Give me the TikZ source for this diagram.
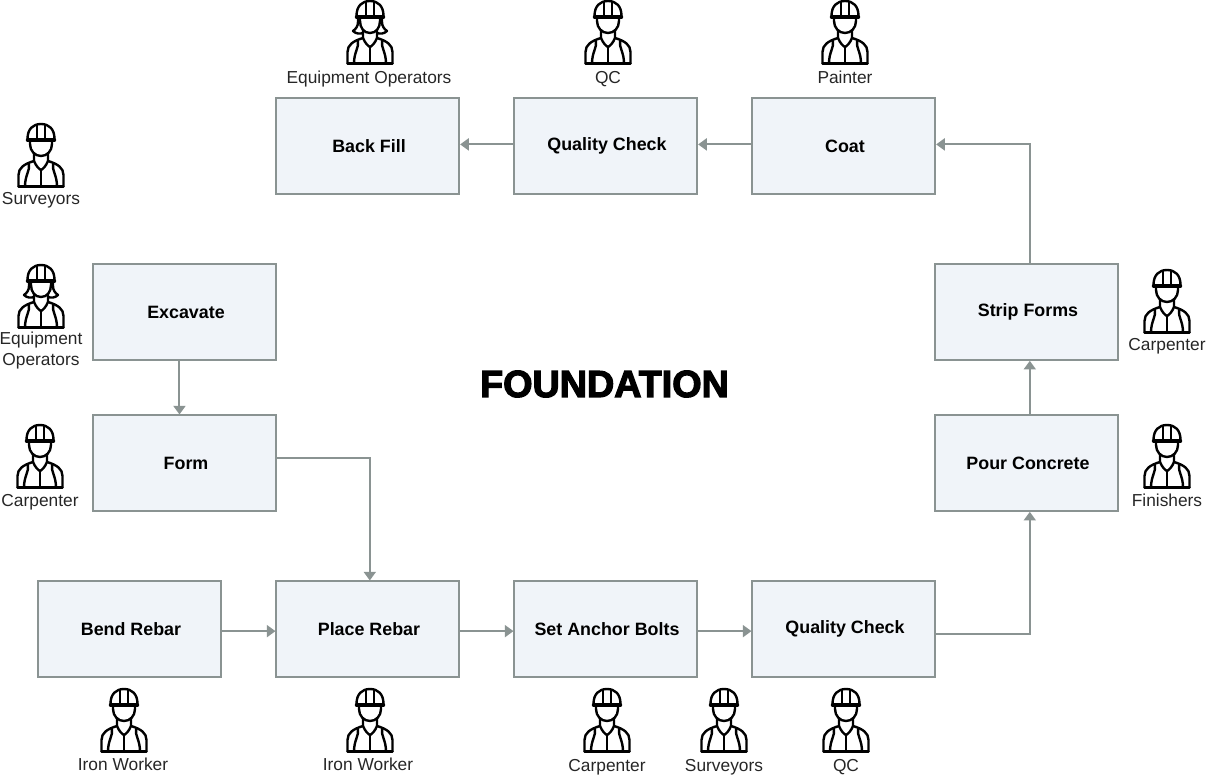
\documentclass[tikz,border=0pt]{standalone}
\usepackage{fontspec}
\setmainfont{Liberation Sans}
\newfontfamily\titlefont[FakeBold=3.2]{Liberation Sans Bold}
\usetikzlibrary{arrows.meta}
\definecolor{linegray}{HTML}{8A9392}
\definecolor{boxfill}{HTML}{F0F4F9}
\tikzset{
  x=0.75pt,y=-0.75pt,
  taskbox/.style={draw=linegray,fill=boxfill,line width=1.5pt,minimum width=137pt,minimum height=71.5pt,inner sep=0pt,font=\fontsize{13.4}{16}\selectfont\bfseries,anchor=north west,xshift=-0.4pt,yshift=0.4pt,execute at begin node=\hspace*{1.8pt}},
  flow/.style={draw=linegray,line width=1.5pt,-{Triangle[length=6.5pt,width=9pt]}},
  role/.style={font=\fontsize{13}{15.4}\selectfont,inner sep=0pt,align=center,text=black!85,yshift=-1.3pt},
  icon/.style={line width=1.8pt,line join=round,line cap=round,black},
  pics/helmet/.style={code={
    \draw[icon] (-13.5,16) .. controls (-13.5,6) and (-8,1) .. (0,1) .. controls (8,1) and (13.5,6) .. (13.5,16);
    \draw[icon,line width=2.6pt] (-13.5,17) -- (13.5,17);
    \draw[icon] (-4,2) -- (-4,15) (4,2) -- (4,15);
  }},
  pics/torso/.style={code={
    \draw[icon] (-22.5,63.5) -- (22.5,63.5);
    \draw[icon] (-22.5,63.5) -- (-22.5,52) .. controls (-22.5,45) and (-17,41) .. (-7,38) -- (-7,31);
    \draw[icon] (22.5,63.5) -- (22.5,52) .. controls (22.5,45) and (17,41) .. (7,38) -- (7,31);
    \draw[icon] (-7,38) .. controls (-5,43) and (-2,46) .. (0,47) .. controls (2,46) and (5,43) .. (7,38);
    \draw[icon] (0,47) -- (0,63.5);
    \draw[icon] (-12,41) .. controls (-11,48) and (-16,52) .. (-16,63.5);
    \draw[icon] (12,41) .. controls (11,48) and (16,52) .. (16,63.5);
  }},
  pics/worker/.style={code={
    \pic {helmet}; \pic {torso};
    \draw[icon] (-11,18) -- (-11,21) .. controls (-11,28) and (-6,33) .. (0,33) .. controls (6,33) and (11,28) .. (11,21) -- (11,18);
  }},
  pics/workerf/.style={code={
    \pic {helmet}; \pic {torso};
    \draw[icon] (-10,18) -- (-10,21) .. controls (-10,28) and (-6,33) .. (0,33) .. controls (6,33) and (10,28) .. (10,21) -- (10,18);
    \draw[icon] (-12,19) -- (-12,22) .. controls (-12,26) and (-14,29) .. (-17,31) .. controls (-14,34) and (-10,34) .. (-7,33);
    \draw[icon] (12,19) -- (12,22) .. controls (12,26) and (14,29) .. (17,31) .. controls (14,34) and (10,34) .. (7,33);
  }}
}
\begin{document}
\begin{tikzpicture}
\useasboundingbox (0,0) rectangle (1206,775);
% task boxes
\node[taskbox] (backfill) at (276,98) {Back Fill};
\node[taskbox] (qc1) at (514,98) {Quality Check};
\node[taskbox] (coat) at (752,98) {Coat};
\node[taskbox] (excavate) at (93,264) {Excavate};
\node[taskbox] (form) at (93,415) {Form};
\node[taskbox] (bend) at (38,581) {Bend Rebar};
\node[taskbox] (place) at (276,581) {Place Rebar};
\node[taskbox] (anchor) at (514,581) {Set Anchor Bolts};
\node[taskbox] (qc2) at (752,581) {Quality Check};
\node[taskbox] (strip) at (935,264) {Strip Forms};
\node[taskbox] (pour) at (935,415) {Pour Concrete};
% title
\node[inner sep=0pt,font=\titlefont\fontsize{28.3}{30}\selectfont] (title) at (604.5,384) {FOUNDATION};
% connectors
\draw[flow] ([xshift=-4pt]excavate.south) -- ([xshift=-4pt]form.north);
\coordinate (formout) at ([yshift=3.75pt]form.east);
\draw[flow] (formout) -| ([xshift=1.5pt]place.north);
\draw[flow] ([yshift=-1.5pt]bend.east) -- ([yshift=-1.5pt]place.west);
\draw[flow] ([yshift=-1.5pt]place.east) -- ([yshift=-1.5pt]anchor.west);
\draw[flow] ([yshift=-1.5pt]anchor.east) -- ([yshift=-1.5pt]qc2.west);
\coordinate (qcout) at ([yshift=-3.75pt]qc2.east);
\draw[flow] (qcout) -| ([xshift=2.25pt]pour.south);
\draw[flow] ([xshift=2.25pt]pour.north) -- ([xshift=2.25pt]strip.south);
\draw[flow] ([xshift=2.25pt]strip.north) |- ([yshift=1.3pt]coat.east);
\draw[flow] ([yshift=1.3pt]coat.west) -- ([yshift=1.3pt]qc1.east);
\draw[flow] ([yshift=1.3pt]qc1.west) -- ([yshift=1.3pt]backfill.east);
% workers
\pic at (370,0) {workerf};
\node[role] (r1) at (369,77) {Equipment Operators};
\pic at (608,0) {worker};
\node[role] (r2) at (608,77) {QC};
\pic at (845,0) {worker};
\node[role] (r3) at (845,76) {Painter};
\pic at (41,123) {worker};
\node[role] (r4) at (41,199) {Surveyors};
\pic at (41,264) {workerf};
\node[role] (r5) at (41,349) {Equipment\\Operators};
\pic at (40,424) {worker};
\node[role] (r6) at (40,501) {Carpenter};
\pic at (1167,269) {worker};
\node[role] (r7) at (1167,345) {Carpenter};
\pic at (1167,424) {worker};
\node[role] (r8) at (1167,499) {Finishers};
\pic at (124,688) {worker};
\node[role] (r9) at (123,763) {Iron Worker};
\pic at (370,688) {worker};
\node[role] (r10) at (368,763) {Iron Worker};
\pic at (607,688) {worker};
\node[role] (r11) at (607,766) {Carpenter};
\pic at (724,688) {worker};
\node[role] (r12) at (724,766) {Surveyors};
\pic at (846,688) {worker};
\node[role] (r13) at (846,765) {QC};
\end{tikzpicture}
\end{document}
